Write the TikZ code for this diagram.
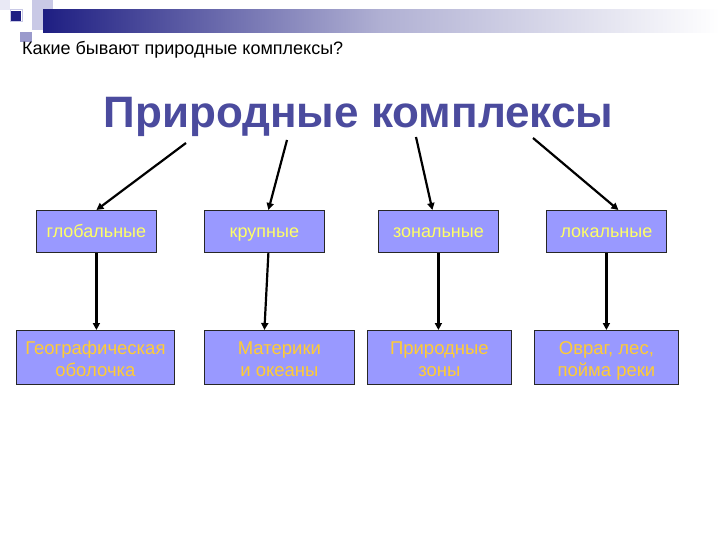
\documentclass[tikz,border=0pt]{standalone}
\usepackage{fontspec}
\setmainfont{Liberation Sans}
\usetikzlibrary{arrows.meta}
\definecolor{navy}{HTML}{1E1E82}
\definecolor{lav}{HTML}{C9C9E6}
\definecolor{midlav}{HTML}{9A9ACC}
\definecolor{titleblue}{HTML}{4B4B9E}
\definecolor{boxfill}{HTML}{9999FF}
\definecolor{txtone}{HTML}{FFFF66}
\definecolor{txttwo}{HTML}{FFCC33}
\tikzset{
  box/.style={draw=black!85, line width=0.8pt, fill=boxfill, inner sep=0pt, anchor=north west},
  boxone/.style={box, minimum width=120pt, minimum height=42pt, text height=12.5pt, text depth=1pt,
    font=\fontsize{18}{21}\selectfont, text=txtone},
  boxtwo/.style={box, minimum height=54pt},
  linetwo/.style={anchor=base, inner sep=0pt, font=\fontsize{18.5}{22}\selectfont, text=txttwo},
  arr/.style={line width=2.2pt, -{Triangle[length=7pt,width=7pt]}},
}
\begin{document}
\begin{tikzpicture}[x=1pt,y=-1pt]
\useasboundingbox (0,0) rectangle (720,540);
\fill[white] (0,0) rectangle (720,540);
% decoration
\fill[lav!40] (0,0) rectangle (10,10);
\fill[lav] (32,0) rectangle (53,30);
\shade[left color=navy, right color=white, middle color=navy!35] (43,10) rectangle (720,33);
\fill[lav] (32,10) rectangle (43,30);
\fill[navy] (11,11) rectangle (21,21);
\draw[lav, line width=1pt] (10,10) rectangle (22,22);
\fill[midlav] (20,32) rectangle (32,42);
% texts
\node[anchor=base west, font=\fontsize{18}{20}\selectfont, inner sep=0pt] (q) at (22,55) {Какие бывают природные комплексы?};
\node[anchor=base, font=\fontsize{44}{50}\selectfont\bfseries, text=titleblue, inner sep=0pt] (title) at (358.5,128) {Природные комплексы};
% row 1
\node[boxone] (b1) at (36,210) {глобальные};
\node[boxone] (b2) at (204,210) {крупные};
\node[boxone] (b3) at (378,210) {зональные};
\node[boxone] (b4) at (546,210) {локальные};
% row 2
\node[boxtwo, minimum width=158pt] (c1) at (16,330) {};
\node[boxtwo, minimum width=150pt] (c2) at (204,330) {};
\node[boxtwo, minimum width=144pt] (c3) at (367,330) {};
\node[boxtwo, minimum width=144pt] (c4) at (534,330) {};
\node[linetwo] (c1a) at (c1.north |- 0,354) {Географическая};
\node[linetwo] (c1b) at (c1.north |- 0,376) {оболочка};
\node[linetwo] (c2a) at (c2.north |- 0,354) {Материки};
\node[linetwo] (c2b) at (c2.north |- 0,376) {и океаны};
\node[linetwo] (c3a) at (c3.north |- 0,354) {Природные};
\node[linetwo] (c3b) at (c3.north |- 0,376) {зоны};
\node[linetwo] (c4a) at (c4.north |- 0,354) {Овраг, лес,};
\node[linetwo] (c4b) at (c4.north |- 0,376) {пойма реки};
% arrow starts
\coordinate (s1) at (186,143);
\coordinate (s2) at (287,140);
\coordinate (s3) at (416,137);
\coordinate (s4) at (533,138);
\draw[arr] (s1) -- (b1.north);
\draw[arr] (s2) -- ([xshift=4pt]b2.north);
\draw[arr] (s3) -- ([xshift=-6pt]b3.north);
\draw[arr] (s4) -- ([xshift=12pt]b4.north);
\draw[arr] (b1.south) -- (c1.north -| b1.south);
\draw[arr] ([xshift=4pt]b2.south) -- ([xshift=-15pt]c2.north);
\draw[arr] (b3.south) -- (c3.north -| b3.south);
\draw[arr] (b4.south) -- (c4.north -| b4.south);
\end{tikzpicture}
\end{document}
